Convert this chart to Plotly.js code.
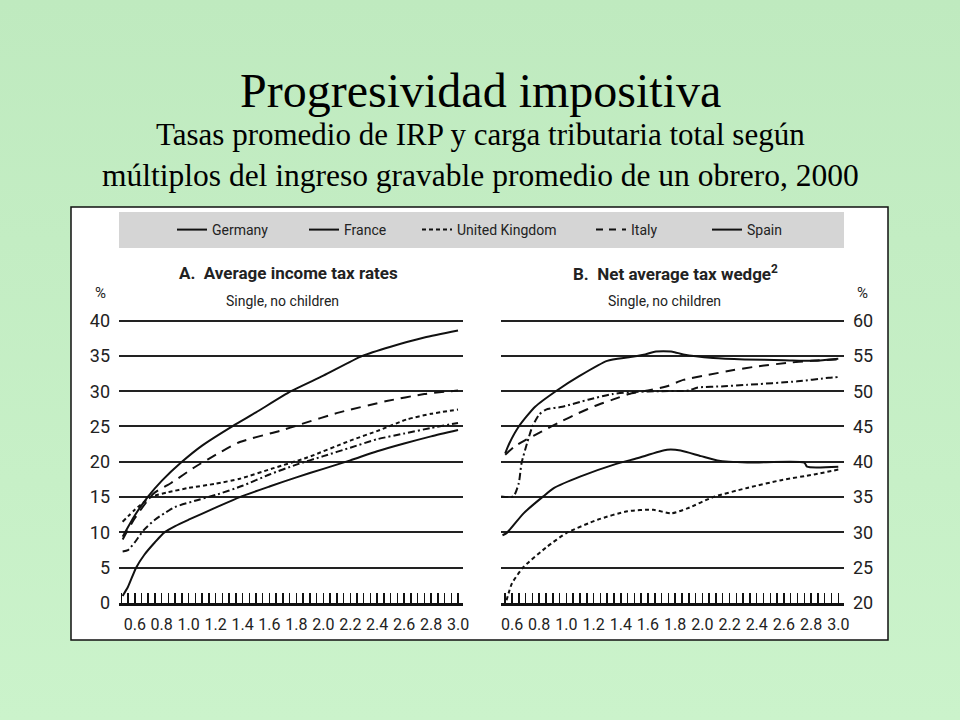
<!DOCTYPE html>
<html>
<head>
<meta charset="utf-8">
<script src="https://cdn.plot.ly/plotly-3.0.1.min.js"></script>
<style>
  html, body { margin: 0; padding: 0; }
  body { background: linear-gradient(#bfeabf, #cbf3cb); }
  #chart { width: 960px; height: 720px; }
</style>
</head>
<body>
<div id="chart"></div>
<script>
/*** DATA ***/

// Panel A: average income tax rates, % (x = multiple of average worker's earnings)
var a_germany_x = [0.51, 0.6, 0.7, 0.8, 0.95, 1.1, 1.33, 1.5, 1.76, 2.0, 2.29, 2.5, 2.75, 3.0];
var a_germany_y = [9.4, 12.4, 15.1, 17.3, 20.0, 22.3, 25.1, 27.0, 30.0, 32.2, 35.0, 36.3, 37.6, 38.6];

var a_france_x = [0.51, 0.55, 0.6, 0.67, 0.75, 0.82, 0.9, 1.07, 1.2, 1.4, 1.6, 1.8, 2.0, 2.2, 2.4, 2.6, 2.8, 3.0];
var a_france_y = [7.3, 7.5, 8.6, 10.4, 11.8, 12.7, 13.6, 14.6, 15.3, 16.6, 18.2, 19.6, 20.8, 22.0, 23.2, 24.0, 24.8, 25.5];

var a_uk_x = [0.51, 0.6, 0.72, 0.85, 1.0, 1.2, 1.38, 1.63, 1.88, 2.2, 2.42, 2.62, 2.8, 3.0];
var a_uk_y = [11.5, 13.2, 15.0, 15.7, 16.3, 16.9, 17.6, 19.1, 20.6, 23.0, 24.5, 26.0, 26.8, 27.4];

var a_italy_x = [0.51, 0.6, 0.74, 0.87, 1.05, 1.24, 1.38, 1.68, 1.83, 2.12, 2.47, 2.75, 3.0];
var a_italy_y = [9.0, 12.0, 15.5, 17.0, 19.3, 21.4, 22.8, 24.4, 25.3, 27.0, 28.6, 29.6, 30.1];

var a_spain_x = [0.51, 0.55, 0.61, 0.67, 0.75, 0.82, 0.9, 1.0, 1.2, 1.38, 1.6, 1.8, 2.0, 2.2, 2.4, 2.6, 2.8, 3.0];
var a_spain_y = [1.0, 2.3, 5.0, 6.8, 8.6, 10.0, 10.9, 11.8, 13.5, 15.0, 16.5, 17.8, 19.0, 20.2, 21.5, 22.6, 23.6, 24.5];

// Panel B: net average tax wedge, %
var b_germany_x = [0.55, 0.58, 0.65, 0.77, 0.93, 1.1, 1.3, 1.46, 1.58, 1.65, 1.78, 1.86, 2.08, 2.31, 2.6, 2.82, 3.0];
var b_germany_y = [41.2, 42.6, 45.0, 47.8, 50.1, 52.2, 54.3, 54.8, 55.2, 55.6, 55.6, 55.2, 54.7, 54.5, 54.4, 54.3, 54.6];

var b_france_x = [0.52, 0.61, 0.65, 0.67, 0.71, 0.75, 0.8, 0.85, 0.97, 1.16, 1.34, 1.5, 1.7, 1.9, 1.96, 2.16, 2.33, 2.7, 2.93, 3.0];
var b_france_y = [35.1, 35.1, 37.0, 39.8, 42.6, 45.0, 46.7, 47.4, 47.8, 48.8, 49.6, 49.9, 50.0, 50.1, 50.5, 50.7, 50.9, 51.4, 51.9, 52.0];

var b_uk_x = [0.56, 0.575, 0.6, 0.685, 0.86, 1.0, 1.23, 1.45, 1.64, 1.77, 1.89, 2.08, 2.33, 2.58, 2.82, 3.0];
var b_uk_y = [20.4, 21.4, 22.8, 25.1, 28.0, 29.9, 31.8, 33.0, 33.2, 32.7, 33.4, 35.0, 36.3, 37.4, 38.2, 38.9];

var b_italy_x = [0.55, 0.62, 0.7, 0.82, 0.96, 1.09, 1.21, 1.34, 1.46, 1.6, 1.74, 1.86, 2.04, 2.23, 2.4, 2.62, 2.8, 3.0];
var b_italy_y = [41.0, 42.2, 43.1, 44.3, 45.7, 46.9, 47.9, 48.8, 49.6, 50.1, 50.7, 51.6, 52.3, 53.0, 53.5, 54.0, 54.3, 54.5];

var b_spain_x = [0.53, 0.56, 0.685, 0.83, 0.91, 1.1, 1.35, 1.52, 1.74, 1.84, 1.99, 2.11, 2.33, 2.75, 2.77, 3.0];
var b_spain_y = [29.6, 29.9, 32.7, 35.1, 36.3, 37.9, 39.6, 40.5, 41.7, 41.6, 40.8, 40.2, 39.9, 39.9, 39.3, 39.3];

var countries = ['Germany', 'France', 'United Kingdom', 'Italy', 'Spain'];
var a_ticks = [0, 5, 10, 15, 20, 25, 30, 35, 40];
var b_ticks = [20, 25, 30, 35, 40, 45, 50, 55, 60];

/*** STYLES ***/
var INK = '#111';
var SANS = 'Roboto, "Liberation Sans", sans-serif';
var SERIF = '"Liberation Serif", "Times New Roman", serif';

// dash pattern seen on each country's curve
var curve_dash = {
    'Germany': 'solid',
    'France': '7px,3px,2px,3px',
    'United Kingdom': '4px,3px',
    'Italy': '10px,7px',
    'Spain': 'solid'
};
// dash pattern shown in the legend strip
var legend_dash = {
    'Germany': 'solid',
    'France': 'solid',
    'United Kingdom': '4px,3px',
    'Italy': '7px,6px',
    'Spain': 'solid'
};
// each legend entry gets its own legend box so it can sit where the original has it
var legend_left = {
    'Germany': 178,
    'France': 310,
    'United Kingdom': 423,
    'Italy': 597,
    'Spain': 713
};

function make_trace(name, x, y, xaxis, yaxis) {
    return {
        x: x, y: y, name: name,
        xaxis: xaxis, yaxis: yaxis,
        type: 'scatter', mode: 'lines',
        line: { color: INK, width: 2, dash: curve_dash[name], shape: 'spline', smoothing: 0.6 },
        showlegend: false,
        hoverinfo: 'skip'
    };
}

var traces = [
    make_trace('Germany', a_germany_x, a_germany_y, 'x', 'y'),
    make_trace('France', a_france_x, a_france_y, 'x', 'y'),
    make_trace('United Kingdom', a_uk_x, a_uk_y, 'x', 'y'),
    make_trace('Italy', a_italy_x, a_italy_y, 'x', 'y'),
    make_trace('Spain', a_spain_x, a_spain_y, 'x', 'y'),
    make_trace('Germany', b_germany_x, b_germany_y, 'x2', 'y2'),
    make_trace('France', b_france_x, b_france_y, 'x2', 'y2'),
    make_trace('United Kingdom', b_uk_x, b_uk_y, 'x2', 'y2'),
    make_trace('Italy', b_italy_x, b_italy_y, 'x2', 'y2'),
    make_trace('Spain', b_spain_x, b_spain_y, 'x2', 'y2')
];

/*** LAYOUT ***/
function px_x(p) { return p / 960; }
function px_y(p) { return 1 - p / 720; }

function x_axis(domain, range) {
    return {
        domain: domain, range: range,
        tickmode: 'linear', tick0: 0.6, dtick: 0.2, tickformat: '.1f',
        ticks: 'inside', ticklen: 10, tickwidth: 1.5, tickcolor: INK,
        minor: { tick0: 0.5, dtick: 0.05, ticks: 'inside', ticklen: 10, tickwidth: 1.5, tickcolor: INK, showgrid: false },
        showgrid: false, zeroline: false,
        showline: true, linecolor: INK, linewidth: 2.5,
        ticklabelstandoff: 5,
        tickfont: { family: SANS, size: 16, color: '#222' },
        fixedrange: true
    };
}

function y_axis(domain, range, ticks, side, anchor) {
    return {
        domain: domain, range: range, side: side, anchor: anchor,
        tickmode: 'array', tickvals: ticks,
        ticks: '', showline: false, zeroline: false,
        showgrid: true, gridcolor: '#222', gridwidth: 2,
        ticklabelstandoff: 8,
        tickfont: { family: SANS, size: 18, color: '#222' },
        fixedrange: true
    };
}

var y_dom = [px_y(603), px_y(603 - 40.4 * 7.06)];

var layout = {
    width: 960, height: 720,
    margin: { l: 0, r: 0, t: 0, b: 0 },
    paper_bgcolor: 'rgba(0,0,0,0)',
    plot_bgcolor: 'rgba(0,0,0,0)',
    xaxis: x_axis([px_x(119), px_x(463)], [0.483, 3.037]),
    yaxis: y_axis(y_dom, [0, 40.4], a_ticks, 'left', 'x'),
    xaxis2: Object.assign(x_axis([px_x(501), px_x(844)], [0.519, 3.042]), { anchor: 'y2' }),
    yaxis2: y_axis(y_dom, [20, 60.4], b_ticks, 'right', 'x2'),
    showlegend: true,
    shapes: [
        // white panel with dark frame
        { type: 'rect', xref: 'paper', yref: 'paper', layer: 'below',
          x0: px_x(71), x1: px_x(888), y0: px_y(640), y1: px_y(207),
          fillcolor: '#ffffff', line: { color: '#111', width: 1.5 } },
        // grey legend strip
        { type: 'rect', xref: 'paper', yref: 'paper', layer: 'below',
          x0: px_x(119), x1: px_x(844), y0: px_y(248), y1: px_y(212),
          fillcolor: '#d5d5d5', line: { width: 0 } }
    ],
    annotations: [
        { text: 'Progresividad impositiva', xref: 'paper', yref: 'paper',
          x: 0.5, y: px_y(90), xanchor: 'center', yanchor: 'middle', showarrow: false,
          font: { family: SERIF, size: 48, color: '#000' } },
        { text: 'Tasas promedio de IRP y carga tributaria total según', xref: 'paper', yref: 'paper',
          x: 0.5, y: px_y(134), xanchor: 'center', yanchor: 'middle', showarrow: false,
          font: { family: SERIF, size: 31, color: '#000' } },
        { text: 'múltiplos del ingreso gravable promedio de un obrero, 2000', xref: 'paper', yref: 'paper',
          x: 0.5, y: px_y(175), xanchor: 'center', yanchor: 'middle', showarrow: false,
          font: { family: SERIF, size: 31.5, color: '#000' } },
        { text: '<b>A.  Average income tax rates</b>', xref: 'paper', yref: 'paper',
          x: px_x(288), y: px_y(273), xanchor: 'center', yanchor: 'middle', showarrow: false,
          font: { family: SANS, size: 17, color: '#222' } },
        { text: 'Single, no children', xref: 'paper', yref: 'paper',
          x: px_x(282), y: px_y(301), xanchor: 'center', yanchor: 'middle', showarrow: false,
          font: { family: SANS, size: 14, color: '#222' } },
        { text: '<b>B.  Net average tax wedge<sup>2</sup></b>', xref: 'paper', yref: 'paper',
          x: px_x(675), y: px_y(273), xanchor: 'center', yanchor: 'middle', showarrow: false,
          font: { family: SANS, size: 17, color: '#222' } },
        { text: 'Single, no children', xref: 'paper', yref: 'paper',
          x: px_x(664), y: px_y(301), xanchor: 'center', yanchor: 'middle', showarrow: false,
          font: { family: SANS, size: 14, color: '#222' } },
        { text: '%', xref: 'paper', yref: 'paper',
          x: px_x(100), y: px_y(293), xanchor: 'center', yanchor: 'middle', showarrow: false,
          font: { family: SANS, size: 15, color: '#222' } },
        { text: '%', xref: 'paper', yref: 'paper',
          x: px_x(862), y: px_y(293), xanchor: 'center', yanchor: 'middle', showarrow: false,
          font: { family: SANS, size: 15, color: '#222' } }
    ]
};

// legend-only entries, one small legend per country
countries.forEach(function (name, i) {
    var key = i === 0 ? 'legend' : 'legend' + (i + 1);
    traces.push({
        x: [null], y: [null], name: name, type: 'scatter', mode: 'lines',
        line: { color: INK, width: 2, dash: legend_dash[name] },
        legend: key, showlegend: true, hoverinfo: 'skip'
    });
    layout[key] = {
        orientation: 'h',
        x: px_x(legend_left[name] - 6), xanchor: 'left',
        y: px_y(230), yanchor: 'middle',
        bgcolor: 'rgba(0,0,0,0)',
        font: { family: SANS, size: 14, color: '#222' },
        itemwidth: 30
    };
});

Plotly.newPlot('chart', traces, layout, { staticPlot: true, displayModeBar: false });
</script>
</body>
</html>
